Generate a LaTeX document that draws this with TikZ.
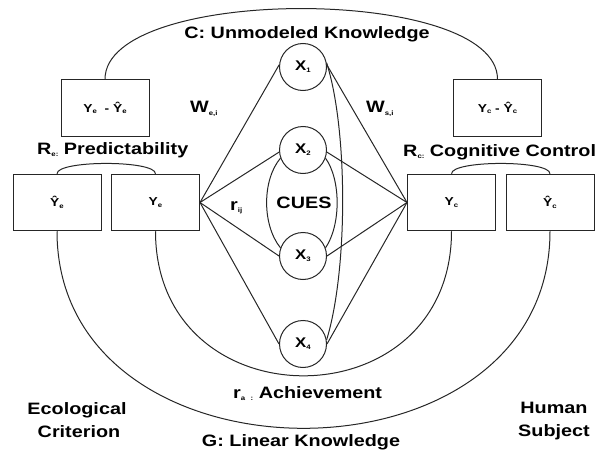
\documentclass[tikz,border=0pt]{standalone}
\usepackage{fontspec}
\setmainfont[FakeStretch=1.2]{Liberation Sans}
\newcommand\sbs[1]{\raisebox{-0.25ex}{\fontsize{6.5}{6.5}\selectfont #1}}
\newcommand\hY{Ŷ}
\tikzset{
  ln/.style={draw=black!85, line width=1pt},
  box/.style={ln, rectangle, minimum width=88pt, minimum height=56.5pt, inner sep=0pt, font=\bfseries\fontsize{11.5}{13}\selectfont},
  cue/.style={ln, circle, minimum size=47pt, inner sep=0pt, font=\bfseries\fontsize{14}{15}\selectfont},
  big/.style={inner sep=0pt, font=\bfseries\fontsize{16.5}{20}\selectfont, text=black},
}
\begin{document}
\begin{tikzpicture}[x=1pt,y=-1pt]
\useasboundingbox (0,0) rectangle (608,452);
% boxes
\node[box] (de) at (105,108) {Y\sbs{e}\ \ -\ \hY\sbs{e}};
\node[box] (he) at (57,202.5) {\hY\sbs{e}};
\node[box] (ye) at (155.5,202.5) {Y\sbs{e}};
\node[box] (dc) at (497.5,108) {Y\sbs{c} - \hY\sbs{c}};
\node[box] (yc) at (451.5,202.5) {Y\sbs{c}};
\node[box] (hc) at (550,202.5) {\hY\sbs{c}};
% cues
\node[cue] (x1) at (303,67) {X\sbs{1}};
\node[cue] (x2) at (303,150) {X\sbs{2}};
\node[cue] (x3) at (303,256) {X\sbs{3}};
\node[cue] (x4) at (303,344) {X\sbs{4}};
% labels
\node[big, anchor=base] (tC) at (307,38.5) {C: Unmodeled Knowledge};
\node[big, anchor=base west] (tWe) at (190,113) {W\sbs{e,i}};
\node[big, anchor=base west] (tWs) at (366,113) {W\sbs{s,i}};
\node[big, anchor=base west] (tRe) at (37,154.5) {R\sbs{e:} Predictability};
\node[big, anchor=base west] (tRc) at (403,156) {R\sbs{c:} Cognitive Control};
\node[big, anchor=base west] (trij) at (230,210) {r\sbs{ij}};
\node[big, anchor=base] (tcues) at (304,208) {CUES};
\node[big, anchor=base west] (tra) at (233,398) {r\sbs{a} \sbs{:} Achievement};
\node[big, anchor=base] (tG) at (301,446) {G: Linear Knowledge};
\node[big, anchor=base] (tEco) at (77,414) {Ecological};
\node[big, anchor=base] (tCri) at (79,437) {Criterion};
\node[big, anchor=base] (tHum) at (554,413) {Human};
\node[big, anchor=base] (tSub) at (554,436) {Subject};
% arcs
\draw[ln] (de.north) .. controls (105,-15) and (497.5,-15) .. (dc.north);
\draw[ln] (he.north) .. controls (57,160) and (155.5,160) .. (ye.north);
\draw[ln] (yc.north) .. controls (451.5,160) and (550,160) .. (hc.north);
\draw[ln] (ye.south) .. controls (155.5,424) and (451.5,424) .. (yc.south);
\draw[ln] (he.south) .. controls (57,494) and (550,494) .. (hc.south);
% fan lines
\draw[ln] (ye.east) -- (x1.175);
\draw[ln] (ye.east) -- (x2.185);
\draw[ln] (ye.east) -- (x3.180);
\draw[ln] (ye.east) -- (x4.180);
\draw[ln] (yc.west) -- (x1.5);
\draw[ln] (yc.west) -- (x2.355);
\draw[ln] (yc.west) -- (x3.0);
\draw[ln] (yc.west) -- (x4.0);
% cue intercorrelation curves
\draw[ln] (x2.200) .. controls (262,180) and (262,225) .. (x3.160);
\draw[ln] (x2.340) .. controls (341,180) and (341,225) .. (x3.20);
\draw[ln] (x1.10) .. controls (348,130) and (348,270) .. (x4.10);
\end{tikzpicture}
\end{document}
